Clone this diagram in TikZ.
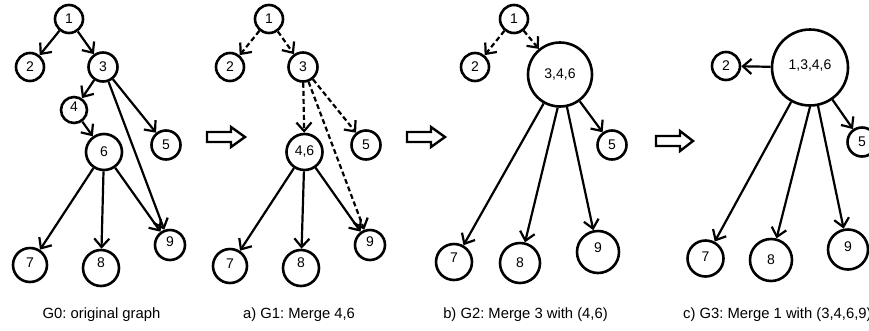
\documentclass[tikz,border=0pt]{standalone}
\usepackage{fontspec}
\setmainfont{Liberation Sans}
\usetikzlibrary{arrows.meta}
\frenchspacing
\begin{document}
\begin{tikzpicture}[x=1pt,y=-1pt,
  vtx/.style={circle, draw, line width=2.6pt, inner sep=0pt, minimum size=#1},
  vlbl/.style={font=\fontsize{14}{16}\selectfont, inner sep=0pt},
  edge/.style={line width=2.2pt, -{Straight Barb[length=8.5pt,width=15pt]}},
  dedge/.style={edge, dash pattern=on 5pt off 3pt},
  caption/.style={font=\fontsize{14.8}{17}\selectfont, inner sep=0pt},
  blockarrow/.style={line width=2.4pt, line join=miter}]
\path[use as bounding box, clip] (0,0) rectangle (869,330);

% ---------- G0: original graph ----------
\node[vtx=28, label={[vlbl]center:1}] (a1) at (69,19) {};
\node[vtx=28, label={[vlbl]center:2}] (a2) at (30,67) {};
\node[vtx=29, label={[vlbl]center:3}] (a3) at (103,67) {};
\node[vtx=26, label={[vlbl,yshift=3pt]center:4}] (a4) at (74,110) {};
\node[vtx=29, label={[vlbl]center:5}] (a5) at (166,145) {};
\node[vtx=36, label={[vlbl]center:6}] (a6) at (104,152) {};
\node[vtx=34, label={[vlbl,yshift=2pt]center:7}] (a7) at (30,265) {};
\node[vtx=36, label={[vlbl,yshift=5pt]center:8}] (a8) at (101,268) {};
\node[vtx=30, label={[vlbl,yshift=3pt]center:9}] (a9) at (170,245) {};
\draw[edge] (a1) -- (a2);
\draw[edge] (a1) -- (a3);
\draw[edge] (a3) -- (a4);
\draw[edge] (a4) -- (a6);
\draw[edge] (a3) -- (a5);
\draw[edge] (a3) -- (a9);
\draw[edge] (a6) -- (a7);
\draw[edge] (a6) -- (a8);
\draw[edge] (a6) -- (a9);
\node[caption] (capa) at (101.5,315) {G0: original graph};

% ---------- G1: merge 4,6 ----------
\draw[blockarrow, shift={(207,137)}] (0,-5) -- (24,-5) -- (24,-10) -- (38,0) -- (24,10) -- (24,5) -- (0,5) -- cycle;
\node[vtx=28, label={[vlbl]center:1}] (b1) at (269,19) {};
\node[vtx=28, label={[vlbl]center:2}] (b2) at (230,67) {};
\node[vtx=29, label={[vlbl]center:3}] (b3) at (303,67) {};
\node[vtx=36, label={[vlbl]center:{4,6}}] (b46) at (304.5,152) {};
\node[vtx=29, label={[vlbl]center:5}] (b5) at (366,145) {};
\node[vtx=34, label={[vlbl,yshift=2pt]center:7}] (b7) at (230,266) {};
\node[vtx=36, label={[vlbl,yshift=5pt]center:8}] (b8) at (301,268) {};
\node[vtx=30, label={[vlbl,yshift=3pt]center:9}] (b9) at (370,245) {};
\draw[dedge] (b1) -- (b2);
\draw[dedge] (b1) -- (b3);
\draw[dedge] (b3) -- (b46);
\draw[dedge] (b3) -- (b5);
\draw[dedge] (b3) -- (b9);
\draw[edge] (b46) -- (b7);
\draw[edge] (b46) -- (b8);
\draw[edge] (b46) -- (b9);
\node[caption] (capb) at (299,315) {a) G1: Merge 4,6};

% ---------- G2: merge 3 with (4,6) ----------
\draw[blockarrow, shift={(407,137)}] (0,-5) -- (24,-5) -- (24,-10) -- (38,0) -- (24,10) -- (24,5) -- (0,5) -- cycle;
\node[vtx=28, label={[vlbl]center:1}] (c1) at (514,19) {};
\node[vtx=28, label={[vlbl]center:2}] (c2) at (475,67) {};
\node[vtx=64, label={[vlbl]center:{3,4,6}}] (c346) at (560,74.5) {};
\node[vtx=29, label={[vlbl]center:5}] (c5) at (612,145) {};
\node[vtx=36, label={[vlbl,yshift=4pt]center:7}] (c7) at (454,262) {};
\node[vtx=40, label={[vlbl]center:8}] (c8) at (520,263) {};
\node[vtx=42, label={[vlbl,yshift=4pt]center:9}] (c9) at (598,252) {};
\draw[dedge] (c1) -- (c2);
\draw[dedge] (c1) -- (c346);
\draw[edge] (c346) -- (c5);
\draw[edge] (c346) -- (c7);
\draw[edge] (c346.-94) -- (c8);
\draw[edge] (c346) -- (c9);
\node[caption] (capc) at (525.5,315) {b) G2: Merge 3 with (4,6)};

% ---------- G3: merge 1 with (3,4,6,9) ----------
\draw[blockarrow, shift={(656,141)}] (0,-5) -- (24,-5) -- (24,-10) -- (37,0) -- (24,10) -- (24,5) -- (0,5) -- cycle;
\node[vtx=28, label={[vlbl]center:2}] (d2) at (726,66) {};
\node[vtx=76, label={[vlbl,yshift=2pt]center:{1,3,4,6}}] (d1346) at (810,67.5) {};
\node[vtx=29, label={[vlbl]center:5}] (d5) at (862,142) {};
\node[vtx=36, label={[vlbl,yshift=2pt]center:7}] (d7) at (705.5,258.5) {};
\node[vtx=42, label={[vlbl]center:8}] (d8) at (771,260) {};
\node[vtx=40, label={[vlbl,yshift=3pt]center:9}] (d9) at (848,249.5) {};
\draw[edge] (d1346) -- (d2);
\draw[edge] (d1346) -- (d5);
\draw[edge] (d1346) -- (d7);
\draw[edge] (d1346.south) -- (d8);
\draw[edge] (d1346) -- (d9);
\node[caption, anchor=west] (capd) at (683,315) {c) G3: Merge 1 with (3,4,6,9)};
\end{tikzpicture}
\end{document}
